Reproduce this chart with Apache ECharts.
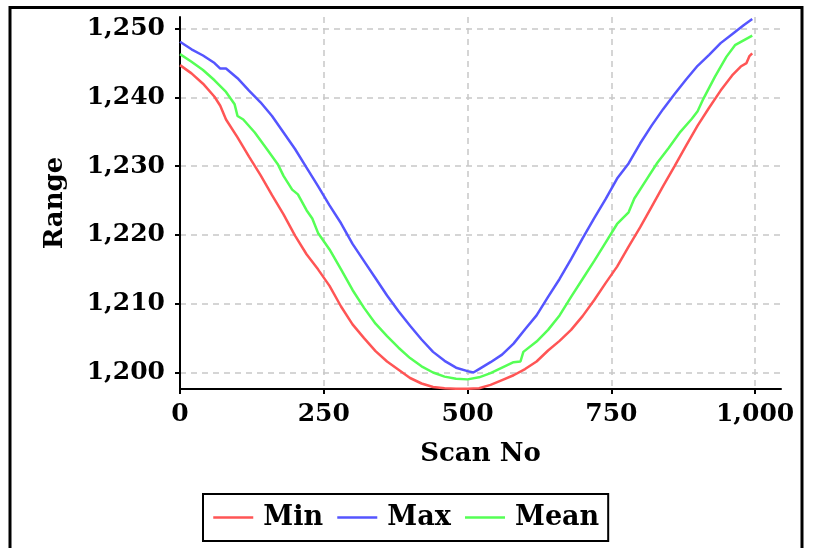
<!DOCTYPE html>
<html><head><meta charset="utf-8">
<script src="https://cdn.jsdelivr.net/npm/echarts@6/dist/echarts.min.js"></script>
<style>html,body{margin:0;padding:0;background:#fff}#c{width:816px;height:548px}</style>
</head><body><div id="c"></div>
<script>
const xTicks = [0, 250, 500, 750, 1000];
const yTicks = [1200, 1210, 1220, 1230, 1240, 1250];
const seriesNames = ['Min', 'Max', 'Mean'];
const seriesColors = ['#ff5555', '#5555ff', '#55ff55'];

const minScan = [0,20,40,60,70,80,100,120,140,160,180,200,220,240,260,280,300,320,340,360,380,400,420,440,460,480,500,520,540,560,580,600,620,640,660,680,700,720,740,760,780,800,820,840,860,880,900,920,940,960,975,985,990,995];
const minVals = [1244.7,1243.5,1242.0,1240.1,1238.8,1236.8,1234.2,1231.4,1228.7,1225.8,1223.0,1219.9,1217.2,1215.0,1212.6,1209.6,1207.0,1205.0,1203.1,1201.6,1200.4,1199.2,1198.4,1197.9,1197.7,1197.65,1197.65,1197.7,1198.2,1198.9,1199.6,1200.5,1201.6,1203.2,1204.6,1206.2,1208.2,1210.5,1213.0,1215.4,1218.3,1221.1,1224.1,1227.1,1230.0,1233.0,1235.9,1238.5,1241.0,1243.2,1244.5,1245.0,1246.0,1246.4];

const maxScan = [0,20,40,60,70,80,100,120,140,160,180,200,220,240,260,280,300,320,340,360,380,400,420,440,460,480,500,510,520,540,560,580,600,620,640,660,680,700,720,740,760,780,800,820,840,860,880,900,920,940,960,980,995];
const maxVals = [1248.1,1247.0,1246.1,1245.0,1244.2,1244.2,1242.8,1241.0,1239.3,1237.3,1234.9,1232.5,1229.8,1227.1,1224.3,1221.7,1218.7,1216.2,1213.7,1211.2,1208.9,1206.8,1204.8,1203.0,1201.7,1200.7,1200.2,1200.0,1200.5,1201.5,1202.6,1204.2,1206.3,1208.3,1211.0,1213.6,1216.5,1219.5,1222.4,1225.2,1228.2,1230.4,1233.3,1235.9,1238.3,1240.5,1242.6,1244.6,1246.2,1247.9,1249.2,1250.5,1251.4];

const meanScan = [0,20,40,60,80,95,100,110,130,150,170,180,195,205,220,230,240,260,280,300,320,340,360,380,400,420,440,460,480,500,520,540,560,580,592,597,620,640,660,680,700,720,740,760,780,790,810,830,850,870,890,900,910,930,950,965,980,995];
const meanVals = [1246.3,1245.2,1244.0,1242.5,1240.8,1239.0,1237.3,1236.8,1234.9,1232.6,1230.3,1228.6,1226.6,1225.9,1223.6,1222.4,1220.3,1217.9,1215.0,1212.0,1209.4,1207.1,1205.3,1203.6,1202.1,1200.9,1200.0,1199.4,1199.1,1199.0,1199.3,1199.9,1200.7,1201.5,1201.6,1203.0,1204.5,1206.2,1208.3,1211.0,1213.6,1216.2,1218.9,1221.6,1223.3,1225.3,1227.9,1230.5,1232.7,1235.0,1236.9,1238.0,1239.8,1243.0,1245.9,1247.6,1248.3,1249.0];

const font = 'DejaVu Serif';
const pair = (xs, ys) => xs.map((x, i) => [x, ys[i]]);
const fmt = v => Number(v).toLocaleString('en-US');

const chart = echarts.init(document.getElementById('c'), null, {renderer: 'canvas'});
const lineSeries = [
  {name: seriesNames[0], data: pair(minScan, minVals), color: seriesColors[0]},
  {name: seriesNames[1], data: pair(maxScan, maxVals), color: seriesColors[1]},
  {name: seriesNames[2], data: pair(meanScan, meanVals), color: seriesColors[2]}
].map(s => ({
  type: 'line', name: s.name, data: s.data, symbol: 'none', showSymbol: false,
  itemStyle: {color: s.color}, lineStyle: {color: s.color, width: 2.5}, z: 3
}));

chart.setOption({
  animation: false,
  backgroundColor: '#fff',
  grid: {left: 180, right: 35, top: 17, bottom: 159, containLabel: false, outerBoundsMode: 'none'},
  xAxis: {
    type: 'value', min: 0, max: 1045,
    name: 'Scan No', nameLocation: 'middle', nameGap: 52,
    nameTextStyle: {fontFamily: font, fontWeight: 'bold', fontSize: 26, color: '#000'},
    axisLine: {show: true, onZero: false, lineStyle: {color: '#000', width: 2}},
    axisTick: {show: true, length: 5, customValues: xTicks, lineStyle: {color: '#000', width: 2}},
    axisLabel: {customValues: xTicks, margin: 13, fontFamily: font, fontWeight: 'bold', fontSize: 25, color: '#000', formatter: fmt},
    splitLine: {show: true, lineStyle: {color: '#c8c8c8', type: [6, 5], width: 1.5}}
  },
  yAxis: {
    type: 'value', min: 1197.6, max: 1251.7,
    name: 'Range', nameLocation: 'middle', nameGap: 112,
    nameTextStyle: {fontFamily: font, fontWeight: 'bold', fontSize: 26, color: '#000'},
    axisLine: {show: true, onZero: false, lineStyle: {color: '#000', width: 2}},
    axisTick: {show: true, length: 5, customValues: yTicks, lineStyle: {color: '#000', width: 2}},
    axisLabel: {customValues: yTicks, margin: 15, fontFamily: font, fontWeight: 'bold', fontSize: 25, color: '#000', formatter: fmt},
    splitLine: {show: true, lineStyle: {color: '#c8c8c8', type: [6, 5], width: 1.5}}
  },
  legend: {
    data: seriesNames, left: 203, top: 494, orient: 'horizontal',
    padding: [10, 9, 10, 9], itemGap: 13, itemWidth: 40, itemHeight: 14,
    itemStyle: {opacity: 0},
    lineStyle: {width: 2.5},
    borderColor: '#000', borderWidth: 2, borderRadius: 0, backgroundColor: '#fff',
    textStyle: {fontFamily: font, fontWeight: 'bold', fontSize: 27, color: '#000', padding: [0, 0, 0, 5]}
  },
  graphic: [{
    type: 'rect', silent: true, z: -10,
    shape: {x: 10, y: 7.5, width: 792, height: 600},
    style: {fill: 'none', stroke: '#000', lineWidth: 3}
  }],
  series: lineSeries
});
</script>
</body></html>
